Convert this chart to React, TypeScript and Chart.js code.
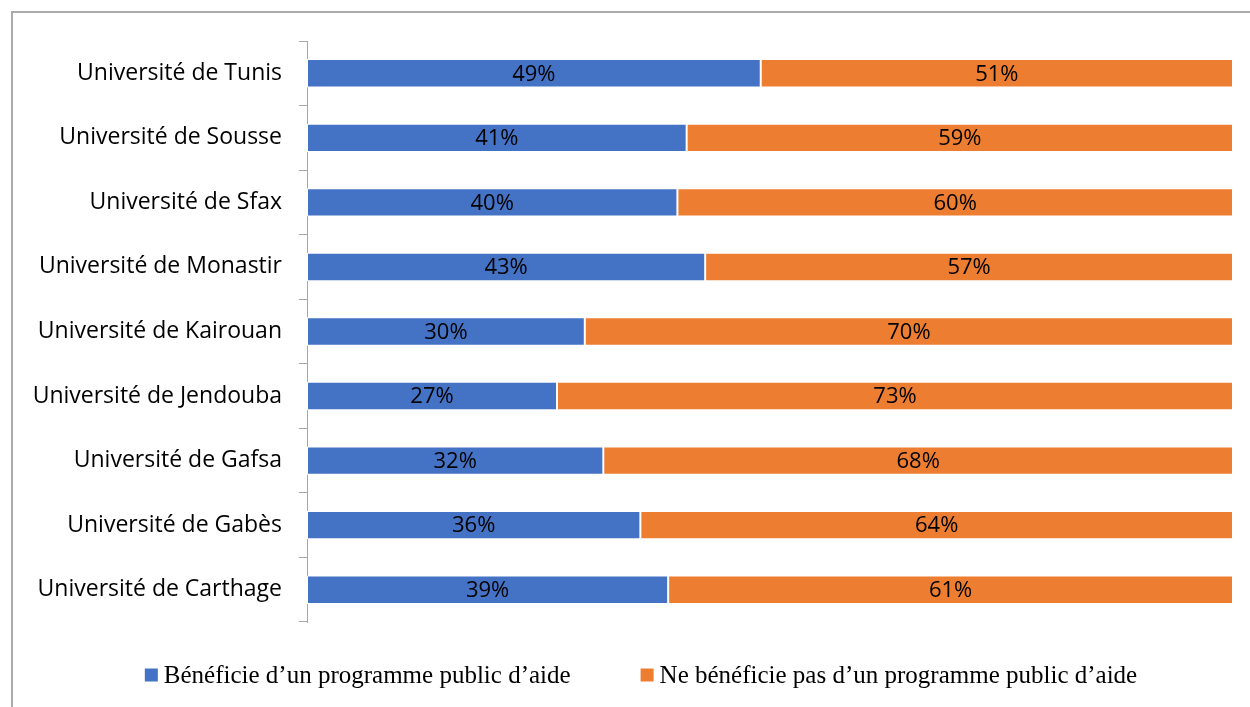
import React, { useEffect, useRef } from "react";
import { Chart, registerables } from "chart.js";

Chart.register(...registerables);

const categories = [
  "Université de Tunis",
  "Université de Sousse",
  "Université de Sfax",
  "Université de Monastir",
  "Université de Kairouan",
  "Université de Jendouba",
  "Université de Gafsa",
  "Université de Gabès",
  "Université de Carthage",
];
const beneficie = [49, 41, 40, 43, 30, 27, 32, 36, 39];
const neBeneficiePas = [51, 59, 60, 57, 70, 73, 68, 64, 61];
const seriesNames = [
  "Bénéficie d’un programme public d’aide",
  "Ne bénéficie pas d’un programme public d’aide",
];
const seriesColors = ["#4472C4", "#ED7D31"];

const LABEL_FONT = "'Open Sans', sans-serif";
const LEGEND_FONT = "25px 'Liberation Serif', serif";

const dataLabels = {
  id: "dataLabels",
  afterDatasetsDraw(chart: any) {
    const ctx = chart.ctx;
    ctx.save();
    ctx.font = `22px ${LABEL_FONT}`;
    ctx.fillStyle = "#000";
    ctx.textAlign = "center";
    ctx.textBaseline = "middle";
    chart.data.datasets.forEach((ds: any, di: number) => {
      const meta = chart.getDatasetMeta(di);
      meta.data.forEach((bar: any, i: number) => {
        const x = (bar.x + bar.base) / 2;
        ctx.fillText(ds.data[i] + "%", x, bar.y + 1);
      });
    });
    ctx.restore();
  },
};

const customLegend = {
  id: "customLegend",
  afterDraw(chart: any) {
    const ctx = chart.ctx;
    ctx.save();
    ctx.font = LEGEND_FONT;
    ctx.textBaseline = "middle";
    ctx.textAlign = "left";
    const box = 13;
    const gapBoxText = 6;
    const gapItems = 70;
    const widths = seriesNames.map((t) => box + gapBoxText + ctx.measureText(t).width);
    const total = widths[0] + gapItems + widths[1];
    const cx = 641 - 13;
    let x = cx - total / 2;
    const y = 662;
    seriesNames.forEach((t, i) => {
      ctx.fillStyle = seriesColors[i];
      ctx.fillRect(x, y - box / 2, box, box);
      ctx.fillStyle = "#000";
      ctx.fillText(t, x + box + gapBoxText, y + 1);
      x += widths[i] + gapItems;
    });
    ctx.restore();
  },
};

export default function App() {
  const ref = useRef<HTMLCanvasElement>(null);
  useEffect(() => {
    const chart = new Chart(ref.current!, {
      type: "bar",
      data: {
        labels: categories,
        datasets: [0, 1].map((i) => ({
          label: seriesNames[i],
          data: i === 0 ? beneficie : neBeneficiePas,
          backgroundColor: seriesColors[i],
          borderColor: "#ffffff",
          borderWidth: 1,
          borderSkipped: false,
          categoryPercentage: 1,
          barPercentage: 0.44,
        })),
      },
      options: {
        indexAxis: "y",
        animation: false,
        responsive: true,
        maintainAspectRatio: false,
        layout: { padding: { left: 0, right: 38, top: 28, bottom: 99 } },
        scales: {
          x: { stacked: true, display: false, min: 0, max: 100 },
          y: {
            stacked: true,
            afterFit: (s: any) => {
              s.width = 294;
              s.paddingTop = 0;
              s.paddingBottom = 0;
            },
            grid: {
              drawOnChartArea: false,
              drawTicks: true,
              tickLength: 8,
              color: "#a6a6a6",
              offset: true,
            },
            border: { display: true, color: "#a6a6a6", width: 1 },
            ticks: {
              color: "#000",
              font: { family: LABEL_FONT, size: 23 },
              padding: 17,
            },
          },
        },
        plugins: {
          tooltip: { enabled: false },
          legend: { display: false },
        },
      },
      plugins: [dataLabels, customLegend],
    });
    return () => chart.destroy();
  }, []);

  return (
    <div
      style={{
        position: "fixed",
        left: 0,
        top: 0,
        width: 1250,
        height: 707,
        overflow: "hidden",
        background: "#fff",
      }}
    >
      <div
        style={{
          position: "absolute",
          left: 11,
          top: 11,
          width: 1260,
          height: 710,
          borderLeft: "2px solid #ababab",
          borderTop: "2px solid #ababab",
          boxSizing: "border-box",
        }}
      >
        <div style={{ position: "absolute", left: 0, top: 0, width: 1258, height: 708 }}>
          <canvas ref={ref} />
        </div>
      </div>
    </div>
  );
}
